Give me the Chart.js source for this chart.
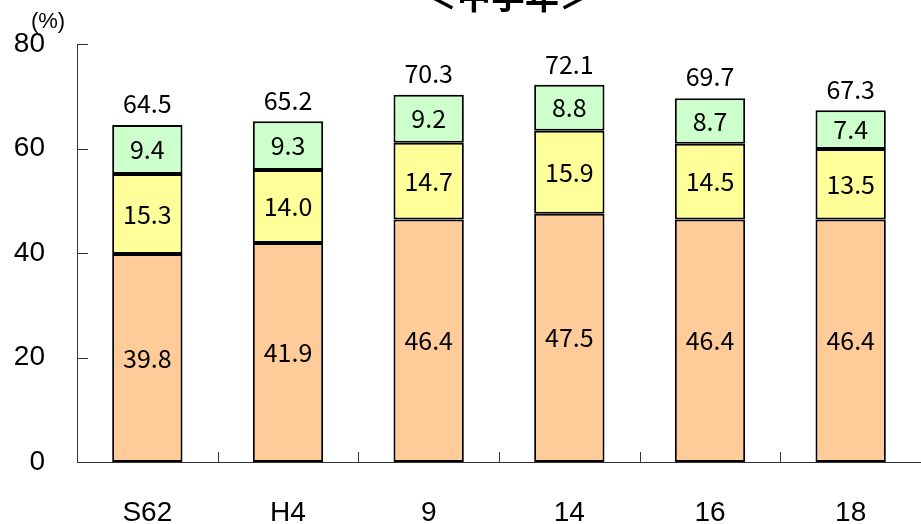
<!DOCTYPE html>
<html>
<head>
<meta charset="utf-8">
<script src="https://cdn.jsdelivr.net/npm/chart.js@4"></script>
<style>
  html,body{margin:0;padding:0;background:#fff;}
  #wrap{width:921px;height:524px;position:relative;}
</style>
</head>
<body>
<div id="wrap"><canvas id="c"></canvas></div>
<script>
const categories = ['S62','H4','9','14','16','18'];
const lowerPart = [39.8, 41.9, 46.4, 47.5, 46.4, 46.4];
const middlePart = [15.3, 14.0, 14.7, 15.9, 14.5, 13.5];
const upperPart = [9.4, 9.3, 9.2, 8.8, 8.7, 7.4];
const totals = [64.5, 65.2, 70.3, 72.1, 69.7, 67.3];
const yTicks = [0, 20, 40, 60, 80];
const title = '＜中学年＞';

const FONT = '"Noto Sans CJK JP", "DejaVu Sans", sans-serif';
const AXFONT = '"Liberation Sans", Arial, sans-serif';

// labels, axes, title
const overlay = {
  id: 'overlay',
  afterDatasetsDraw(chart){
    const c = chart.ctx, a = chart.chartArea;
    const x = chart.scales.x, y = chart.scales.y;
    c.save();
    c.fillStyle = '#000';
    c.textAlign = 'center';
    c.textBaseline = 'middle';
    c.font = '25px ' + FONT;
    chart.data.datasets.forEach((ds, i) => {
      chart.getDatasetMeta(i).data.forEach((bar, j) => {
        c.fillText(ds.data[j].toFixed(1), bar.x, (bar.y + bar.base) / 2);
      });
    });
    totals.forEach((t, j) => {
      c.fillText(t.toFixed(1), x.getPixelForValue(j), y.getPixelForValue(t) - 21);
    });
    // axes
    c.strokeStyle = '#333';
    c.lineWidth = 1;
    c.beginPath();
    c.moveTo(a.left + 0.5, a.top); c.lineTo(a.left + 0.5, a.bottom + 0.5); c.lineTo(a.right, a.bottom + 0.5);
    yTicks.forEach(v => {
      const py = Math.round(y.getPixelForValue(v)) + 0.5;
      c.moveTo(a.left, py); c.lineTo(a.left + 11, py);
    });
    const step = (a.right - a.left) / categories.length;
    for(let k = 1; k < categories.length; k++){
      const px = Math.round(a.left + step * k) + 0.5;
      c.moveTo(px, a.bottom); c.lineTo(px, a.bottom - 10);
    }
    c.stroke();
    c.font = '22px ' + AXFONT;
    c.fillText('(%)', 48, 22);
    c.font = 'bold 34px ' + FONT;
    c.textBaseline = 'alphabetic';
    c.fillText(title, 508, 9);
    c.restore();
  }
};

const barStyle = {borderColor:'#000', borderWidth:2, borderSkipped:false, barPercentage:0.5, categoryPercentage:1};

new Chart(document.getElementById('c'), {
  type: 'bar',
  data: {
    labels: categories,
    datasets: [
      Object.assign({data: lowerPart, backgroundColor:'#FFCC99'}, barStyle),
      Object.assign({data: middlePart, backgroundColor:'#FFFF99'}, barStyle),
      Object.assign({data: upperPart, backgroundColor:'#CCFFCC'}, barStyle)
    ]
  },
  options: {
    responsive: true,
    maintainAspectRatio: false,
    animation: false,
    layout: {padding: {top: 44, right: 0, left: 0, bottom: 0}},
    plugins: {legend: {display:false}, tooltip: {enabled:false}},
    scales: {
      x: {
        stacked: true,
        grid: {display:false, drawTicks:false},
        border: {display:false},
        ticks: {color:'#000', font:{size:28, family:AXFONT}, padding:34},
        afterFit(s){ s.height = 62; s.paddingLeft = 0; s.paddingRight = 0; }
      },
      y: {
        stacked: true,
        min: 0, max: 80,
        afterBuildTicks(s){ s.ticks = yTicks.map(v => ({value:v})); },
        grid: {display:false, drawTicks:false},
        border: {display:false},
        ticks: {color:'#000', font:{size:28, family:AXFONT}, padding:32},
        afterFit(s){ s.width = 77; s.paddingTop = 0; s.paddingBottom = 0; }
      }
    }
  },
  plugins: [overlay]
});
</script>
</body>
</html>
